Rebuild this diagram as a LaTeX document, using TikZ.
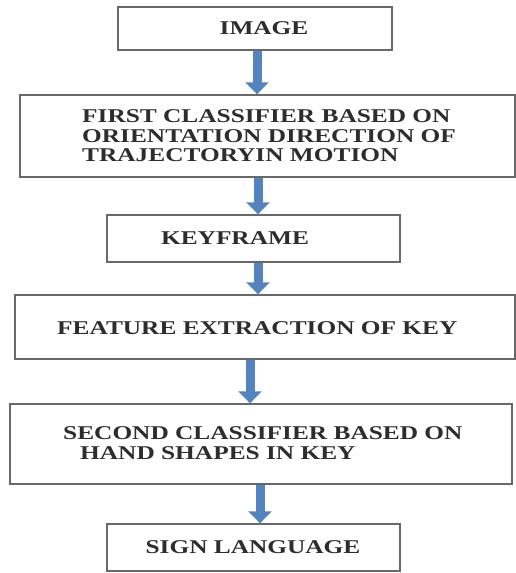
\documentclass[tikz,border=0pt]{standalone}
\usepackage{fontspec}
\usetikzlibrary{arrows.meta}
\newfontfamily\boxfont[FakeStretch=1.3]{Liberation Serif}
\definecolor{arrowblue}{RGB}{84,132,192}
\definecolor{boxgray}{RGB}{105,105,105}
\definecolor{txtgray}{RGB}{45,45,45}
\begin{document}
\begin{tikzpicture}[x=1pt,y=-1pt,
  box/.style={draw=boxgray, line width=1.4pt, rectangle, inner sep=0pt},
  lbl/.style={font=\boxfont\bfseries\fontsize{19.5}{19.5}\selectfont, text=txtgray, align=left, inner sep=0pt},
  flow/.style={draw=arrowblue, line width=9pt, -{Triangle[width=23pt,length=12pt]}}]
\useasboundingbox (0,0) rectangle (516,573);
\fill[white] (0,0) rectangle (516,573);
% boxes
\node[box, minimum width=274pt, minimum height=43pt] (b1) at (255,28.5) {};
\node[box, minimum width=495pt, minimum height=82pt] (b2) at (267.5,136) {};
\node[box, minimum width=293pt, minimum height=47pt] (b3) at (253.5,238.5) {};
\node[box, minimum width=500pt, minimum height=64pt] (b4) at (265,327) {};
\node[box, minimum width=502pt, minimum height=80pt] (b5) at (261,444) {};
\node[box, minimum width=293pt, minimum height=47pt] (b6) at (253.5,547.5) {};
% labels
\node[lbl, anchor=center] (t1) at (264,28) {IMAGE};
\node[lbl, anchor=north west] (t2) at (82,109.5) {FIRST CLASSIFIER BASED ON\\ORIENTATION DIRECTION OF\\TRAJECTORYIN MOTION};
\node[lbl, anchor=center] (t3) at (235,238) {KEYFRAME};
\node[lbl, anchor=west] (t4) at (57,328) {FEATURE EXTRACTION OF KEY};
\node[lbl, anchor=north west] (t5) at (63,426.5) {SECOND CLASSIFIER BASED ON\\\hspace*{17pt}HAND SHAPES IN KEY};
\node[lbl, anchor=center] (t6) at (253,547) {SIGN LANGUAGE};
% arrow axes
\coordinate (a1) at (257,0);
\coordinate (a2) at (258,0);
\coordinate (a3) at (258,0);
\coordinate (a4) at (250,0);
\coordinate (a5) at (260,0);
% arrows
\draw[flow] (b1.south -| a1) -- (b2.north -| a1);
\draw[flow] (b2.south -| a2) -- (b3.north -| a2);
\draw[flow] (b3.south -| a3) -- (b4.north -| a3);
\draw[flow] (b4.south -| a4) -- (b5.north -| a4);
\draw[flow] (b5.south -| a5) -- (b6.north -| a5);
\end{tikzpicture}
\end{document}
